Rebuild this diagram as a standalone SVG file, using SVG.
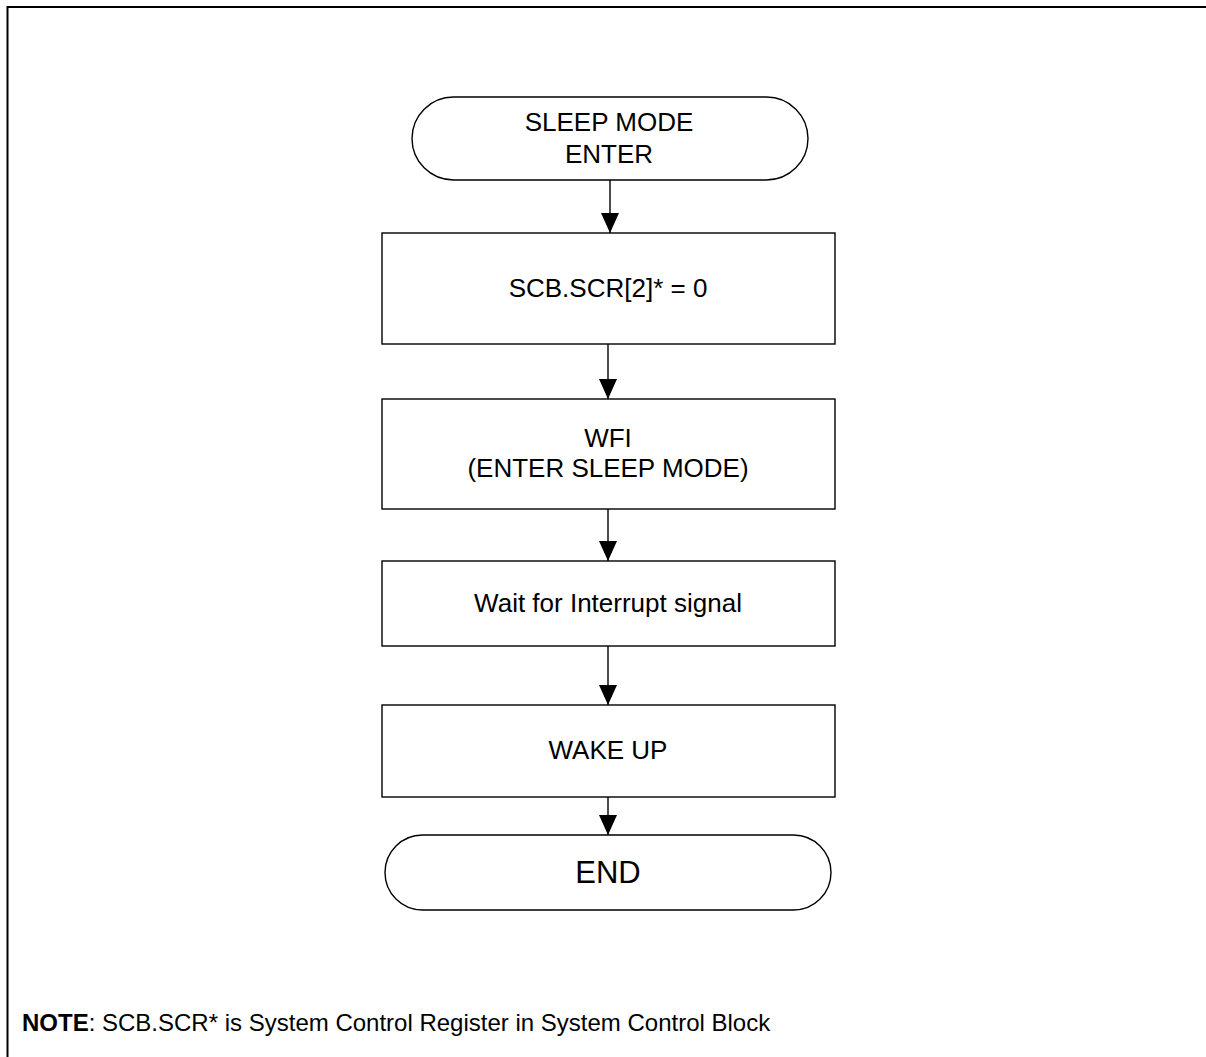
<svg xmlns="http://www.w3.org/2000/svg" width="1206" height="1057" viewBox="0 0 1206 1057">
<style>
.box{fill:#fff;stroke:#000;stroke-width:1.4}
.t{font-family:"Liberation Sans",Arial,sans-serif;font-size:26px;fill:#000;text-anchor:middle}
.c{stroke:#000;stroke-width:1.4;fill:none}
</style>
<defs>
<marker id="ah" markerUnits="userSpaceOnUse" markerWidth="20" markerHeight="20" viewBox="0 0 20 18" refX="20" refY="9" orient="auto">
<path d="M0,0 L20,9 L0,18 Z" fill="#000"/>
</marker>
</defs>
<rect width="1206" height="1057" fill="#fff"/>
<path d="M7.5,1057 V7 H1206" fill="none" stroke="#000" stroke-width="2"/>
<g id="connectors">
<line class="c" x1="610" y1="180" x2="610" y2="233" marker-end="url(#ah)"/>
<line class="c" x1="608" y1="344" x2="608" y2="399" marker-end="url(#ah)"/>
<line class="c" x1="608" y1="509" x2="608" y2="561" marker-end="url(#ah)"/>
<line class="c" x1="608" y1="646" x2="608" y2="705" marker-end="url(#ah)"/>
<line class="c" x1="608" y1="797" x2="608" y2="835" marker-end="url(#ah)"/>
</g>
<g id="start">
<rect class="box" x="412" y="97" width="396" height="83" rx="41.5" ry="41.5"/>
<text class="t" x="609" y="131">SLEEP MODE</text>
<text class="t" x="609" y="163">ENTER</text>
</g>
<g id="scr">
<rect class="box" x="382" y="233" width="453" height="111"/>
<text class="t" x="608" y="297">SCB.SCR[2]* = 0</text>
</g>
<g id="wfi">
<rect class="box" x="382" y="399" width="453" height="110"/>
<text class="t" x="608" y="447">WFI</text>
<text class="t" x="608" y="477">(ENTER SLEEP MODE)</text>
</g>
<g id="wait">
<rect class="box" x="382" y="561" width="453" height="85"/>
<text class="t" x="608" y="612">Wait for Interrupt signal</text>
</g>
<g id="wake">
<rect class="box" x="382" y="705" width="453" height="92"/>
<text class="t" x="608" y="759">WAKE UP</text>
</g>
<g id="end">
<rect class="box" x="385" y="835" width="446" height="75" rx="37.5" ry="37.5"/>
<text class="t" x="608" y="883" style="font-size:31px">END</text>
</g>
<g id="note">
<text x="22" y="1031" style="font-family:'Liberation Sans',Arial,sans-serif;font-size:24px;fill:#000"><tspan font-weight="bold">NOTE</tspan>: SCB.SCR* is System Control Register in System Control Block</text>
</g>
</svg>
